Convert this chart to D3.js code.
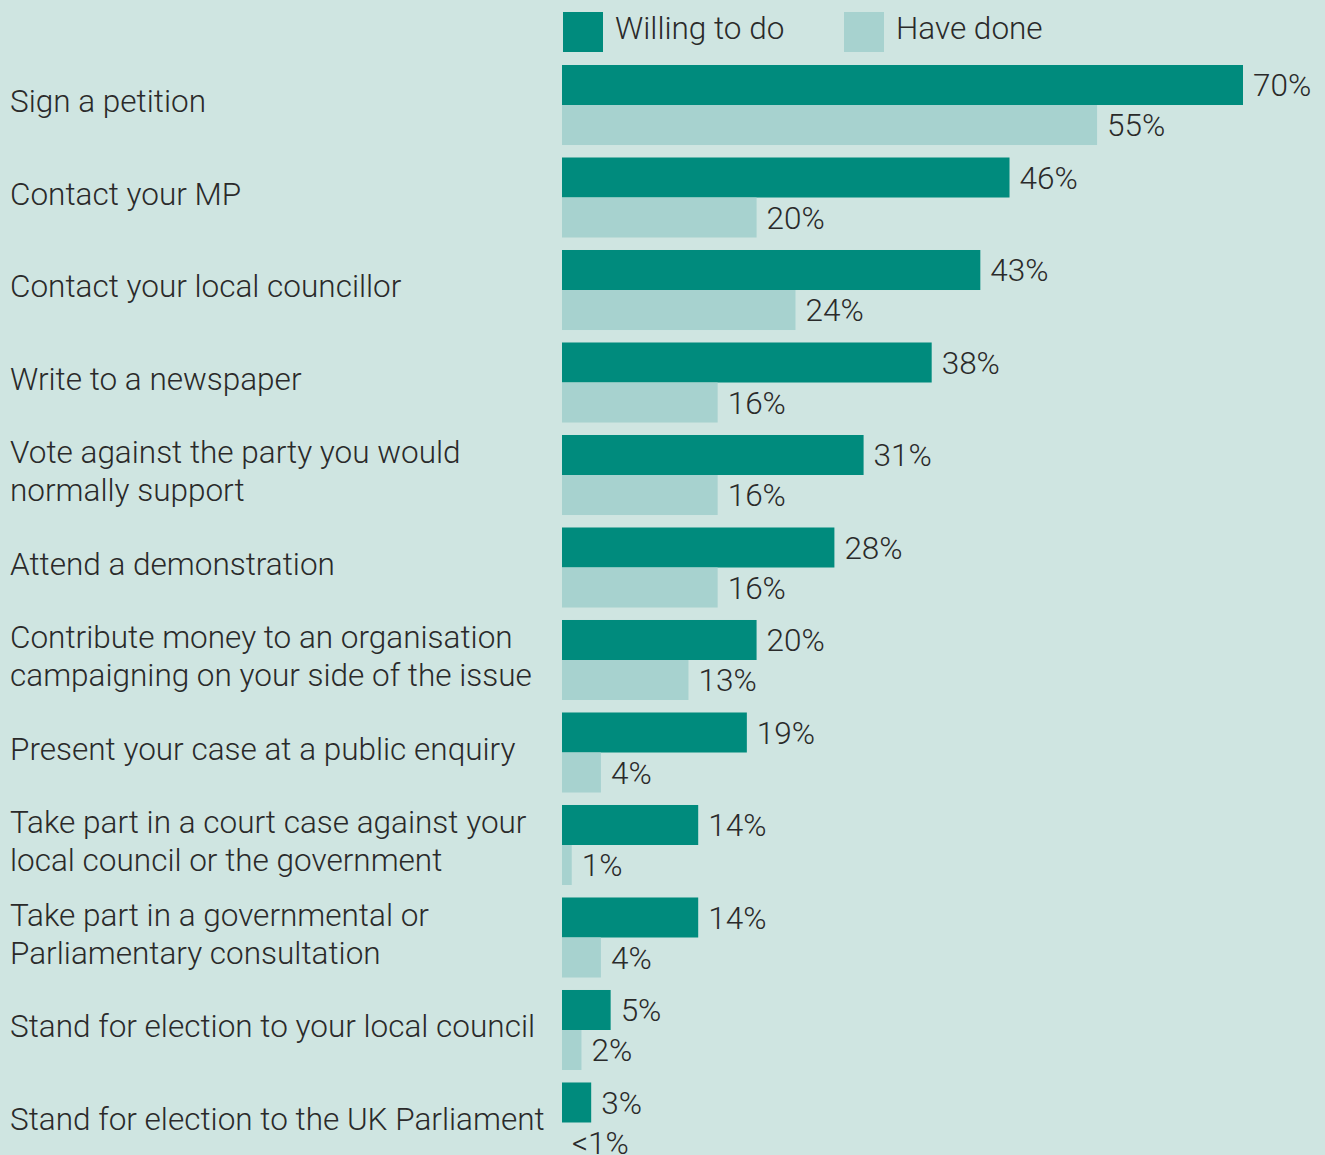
<!DOCTYPE html>
<html>
<head>
<meta charset="utf-8">
<script src="https://cdn.jsdelivr.net/npm/d3@7"></script>
<style>
  html, body { margin: 0; padding: 0; background: #cfe5e1; }
  svg { display: block; }
  text { font-family: Roboto, "Liberation Sans", sans-serif; font-weight: 300; fill: #2a2a2a; }
</style>
</head>
<body>
<svg id="chart" width="1325" height="1155"></svg>
<script>
// Survey activities (each label split into its printed lines)
const categories = [
  ["Sign a petition"],
  ["Contact your MP"],
  ["Contact your local councillor"],
  ["Write to a newspaper"],
  ["Vote against the party you would", "normally support"],
  ["Attend a demonstration"],
  ["Contribute money to an organisation", "campaigning on your side of the issue"],
  ["Present your case at a public enquiry"],
  ["Take part in a court case against your", "local council or the government"],
  ["Take part in a governmental or", "Parliamentary consultation"],
  ["Stand for election to your local council"],
  ["Stand for election to the UK Parliament"]
];

const seriesNames = ["Willing to do", "Have done"];
const willingToDo = [70, 46, 43, 38, 31, 28, 20, 19, 14, 14, 5, 3];
const haveDone    = [55, 20, 24, 16, 16, 16, 13, 4, 1, 4, 2, 0];
const willingLabels = ["70%", "46%", "43%", "38%", "31%", "28%", "20%", "19%", "14%", "14%", "5%", "3%"];
const haveDoneLabels = ["55%", "20%", "24%", "16%", "16%", "16%", "13%", "4%", "1%", "4%", "2%", "<1%"];

const colors = ["#008b7d", "#a7d2cf"];

const svg = d3.select("#chart");
const fontSize = 31.5;

// Band per activity, sub-band per series
const y0 = d3.scaleBand()
  .domain(d3.range(categories.length))
  .range([65, 1162.5])
  .paddingInner(0.135)
  .paddingOuter(0);

const y1 = d3.scaleBand()
  .domain([0, 1])
  .range([0, y0.bandwidth()]);

const x = d3.scaleLinear()
  .domain([0, 70])
  .range([562, 1243]);

const rows = categories.map((c, i) => ({
  lines: c,
  values: [willingToDo[i], haveDone[i]],
  labels: [willingLabels[i], haveDoneLabels[i]]
}));

const group = svg.append("g").selectAll("g")
  .data(rows)
  .join("g")
  .attr("transform", (d, i) => `translate(0,${y0(i)})`);

// Bars
group.selectAll("rect")
  .data(d => d.values.map((v, k) => ({ v, k })))
  .join("rect")
  .attr("x", x(0))
  .attr("y", d => y1(d.k))
  .attr("width", d => x(d.v) - x(0))
  .attr("height", y1.bandwidth())
  .attr("fill", d => colors[d.k]);

// Value labels
group.selectAll("text.value")
  .data(d => d.values.map((v, k) => ({ v, k, label: d.labels[k] })))
  .join("text")
  .attr("class", "value")
  .attr("x", d => x(d.v) + 10)
  .attr("y", d => y1(d.k) + y1.bandwidth() / 2)
  .attr("dy", "0.36em")
  .style("font-size", fontSize + "px")
  .text(d => d.label);

// Category labels
const lineHeight = 38;
group.append("text")
  .attr("class", "category")
  .attr("x", 10)
  .style("font-size", fontSize + "px")
  .each(function(d) {
    const t = d3.select(this);
    const n = d.lines.length;
    d.lines.forEach((line, j) => {
      t.append("tspan")
        .attr("x", 10)
        .attr("y", y0.bandwidth() / 2 - 4 + (j - (n - 1) / 2) * lineHeight)
        .attr("dy", "0.36em")
        .text(line);
    });
  });

// Legend
const legend = svg.append("g").selectAll("g")
  .data(seriesNames)
  .join("g")
  .attr("transform", (d, i) => `translate(${[563, 844][i]},12)`);

legend.append("rect")
  .attr("width", 40)
  .attr("height", 40)
  .attr("fill", (d, i) => colors[i]);

legend.append("text")
  .attr("x", 52)
  .attr("y", 16)
  .attr("dy", "0.36em")
  .style("font-size", fontSize + "px")
  .text(d => d);
</script>
</body>
</html>
